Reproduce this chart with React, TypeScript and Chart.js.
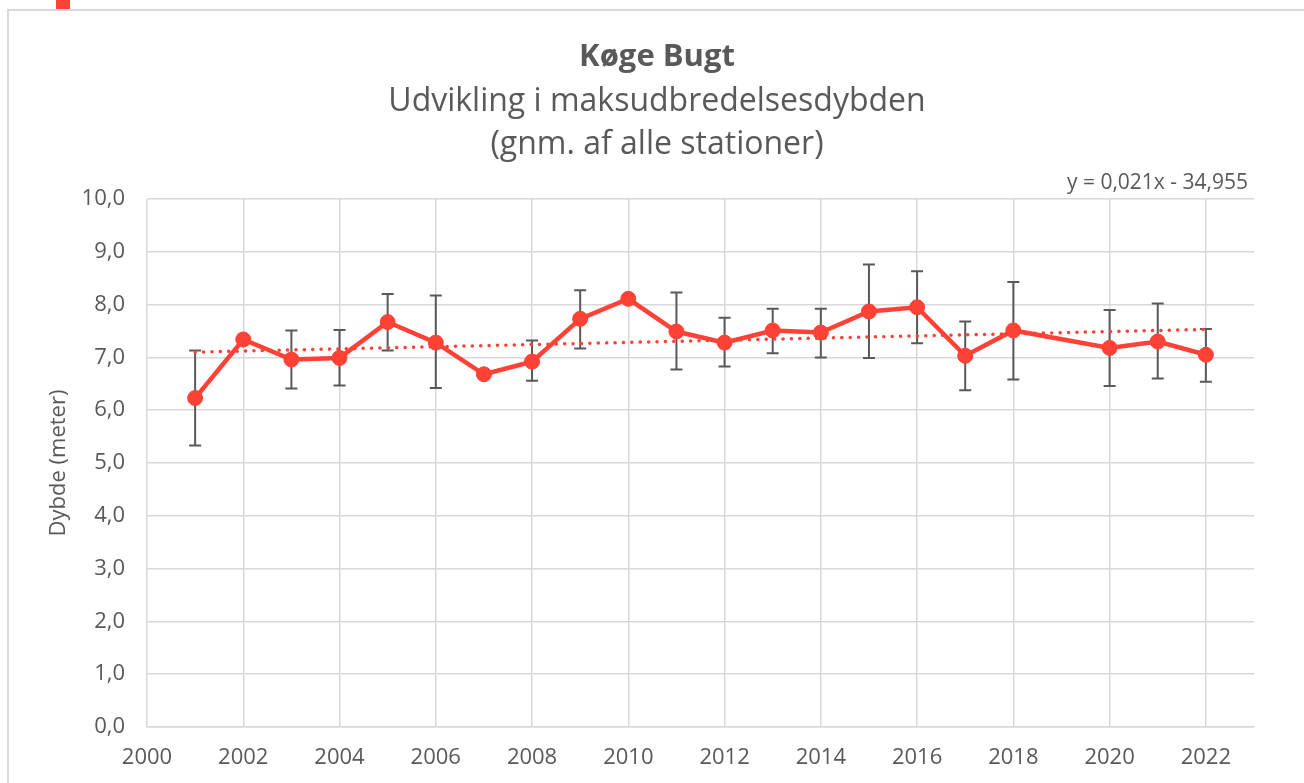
import React, { useEffect, useRef } from "react";
import { Chart, registerables } from "chart.js";

Chart.register(...registerables);

const years = [2001, 2002, 2003, 2004, 2005, 2006, 2007, 2008, 2009, 2010, 2011, 2012, 2013, 2014, 2015, 2016, 2017, 2018, 2020, 2021, 2022];
const depth = [6.23, 7.34, 6.96, 6.99, 7.67, 7.28, 6.68, 6.92, 7.73, 8.11, 7.49, 7.28, 7.51, 7.47, 7.87, 7.95, 7.03, 7.51, 7.18, 7.3, 7.05];
const errUpper = [7.13, null, 7.51, 7.52, 8.2, 8.17, null, 7.32, 8.27, null, 8.23, 7.75, 7.92, 7.92, 8.76, 8.63, 7.68, 8.43, 7.9, 8.02, 7.54];
const errLower = [5.33, null, 6.41, 6.47, 7.13, 6.42, null, 6.56, 7.17, null, 6.77, 6.83, 7.08, 7.0, 6.99, 7.27, 6.38, 6.58, 6.46, 6.6, 6.54];
const trendYears = [2001, 2022];
const trendValues = [7.1, 7.53];
const xTickValues = [2000, 2002, 2004, 2006, 2008, 2010, 2012, 2014, 2016, 2018, 2020, 2022];

const titleText = "Køge Bugt";
const subtitleLines = ["Udvikling i maksudbredelsesdybden", "(gnm. af alle stationer)"];
const equationText = "y = 0,021x - 34,955";
const yAxisTitle = "Dybde (meter)";

const FONT = "'Open Sans', 'Noto Sans', sans-serif";
const TEXT = "#595959";
const RED = "#FF4136";
const GRID = "#D9D9D9";

const errorBarPlugin = {
  id: "errorBars",
  beforeDatasetsDraw(chart: any) {
    const { ctx, scales } = chart;
    const xs = scales.x;
    const ys = scales.y;
    ctx.save();
    ctx.strokeStyle = "#595959";
    ctx.lineWidth = 2;
    years.forEach((yr, i) => {
      const hi = errUpper[i];
      const lo = errLower[i];
      if (hi == null || lo == null) return;
      const px = xs.getPixelForValue(yr);
      const pyHi = ys.getPixelForValue(hi);
      const pyLo = ys.getPixelForValue(lo);
      ctx.beginPath();
      ctx.moveTo(px, pyHi);
      ctx.lineTo(px, pyLo);
      ctx.moveTo(px - 6, pyHi);
      ctx.lineTo(px + 6, pyHi);
      ctx.moveTo(px - 6, pyLo);
      ctx.lineTo(px + 6, pyLo);
      ctx.stroke();
    });
    ctx.restore();
  },
};

const textPlugin = {
  id: "textPlugin",
  afterDraw(chart: any) {
    const { ctx, width, chartArea } = chart;
    ctx.save();
    ctx.fillStyle = TEXT;
    ctx.textAlign = "center";
    ctx.textBaseline = "middle";
    const cx = width / 2;
    ctx.font = `bold 31px ${FONT}`;
    ctx.fillText(titleText, cx, 46);
    ctx.font = `32px ${FONT}`;
    ctx.fillText(subtitleLines[0], cx, 91);
    ctx.fillText(subtitleLines[1], cx, 134);
    ctx.font = `21px ${FONT}`;
    ctx.textAlign = "right";
    ctx.fillText(equationText, chartArea.right - 6, chartArea.top - 16);
    ctx.restore();
  },
};

export default function App() {
  const canvasRef = useRef<HTMLCanvasElement | null>(null);

  useEffect(() => {
    const canvas = canvasRef.current;
    if (!canvas) return;
    const chart = new Chart(canvas, {
      type: "line",
      data: {
        datasets: [
          {
            label: "Dybde",
            data: years.map((yr, i) => ({ x: yr, y: depth[i] })),
            borderColor: RED,
            backgroundColor: RED,
            borderWidth: 4.5,
            pointRadius: 7.5,
            pointBorderWidth: 1,
            pointBorderColor: RED,
            pointBackgroundColor: RED,
            tension: 0,
          },
          {
            label: "Trend",
            data: trendYears.map((yr, i) => ({ x: yr, y: trendValues[i] })),
            borderColor: RED,
            borderWidth: 3.5,
            borderDash: [0.1, 8.3],
            borderCapStyle: "round",
            pointRadius: 0,
            tension: 0,
          },
        ],
      },
      options: {
        animation: false,
        responsive: false,
        maintainAspectRatio: false,
        layout: { padding: { left: 0, right: 51, top: 188, bottom: 34 } },
        plugins: {
          legend: { display: false },
          tooltip: { enabled: false },
          title: { display: false },
        },
        scales: {
          x: {
            type: "linear",
            min: 2000,
            max: 2023,
            afterBuildTicks: (scale: any) => {
              scale.ticks = xTickValues.map((v) => ({ value: v }));
            },
            afterFit: (scale: any) => {
              scale.height = 40;
            },
            ticks: {
              padding: 18,
              color: TEXT,
              font: { family: FONT, size: 22 },
              callback: (v: any) => String(v),
              maxRotation: 0,
              autoSkip: false,
            },
            grid: { color: GRID, lineWidth: 1.5, drawTicks: false },
            border: { color: GRID, width: 1.5 },
          },
          y: {
            min: 0,
            max: 10,
            afterFit: (scale: any) => {
              scale.width = 138;
            },
            ticks: {
              stepSize: 1,
              padding: 22,
              color: TEXT,
              font: { family: FONT, size: 22 },
              callback: (v: any) => Number(v).toFixed(1).replace(".", ","),
            },
            grid: { color: GRID, lineWidth: 1.5, drawTicks: false },
            border: { display: false },
            title: {
              display: true,
              text: yAxisTitle,
              color: TEXT,
              font: { family: FONT, size: 22, weight: "normal" },
              padding: { top: 37, bottom: 0 },
            },
          },
        },
      },
      plugins: [errorBarPlugin, textPlugin],
    } as any);
    return () => chart.destroy();
  }, []);

  return (
    <div style={{ position: "fixed", left: 0, top: 0, width: 1304, height: 783, overflow: "hidden", background: "#fff" }}>
      <div style={{ position: "absolute", left: 56, top: 0, width: 14, height: 9, background: RED }} />
      <div
        style={{
          position: "absolute",
          left: 7,
          top: 9,
          width: 1296,
          height: 790,
          border: "2px solid #D9D9D9",
          background: "#fff",
        }}
      >
        <canvas ref={canvasRef} width={1296} height={790} style={{ display: "block" }} />
      </div>
    </div>
  );
}
